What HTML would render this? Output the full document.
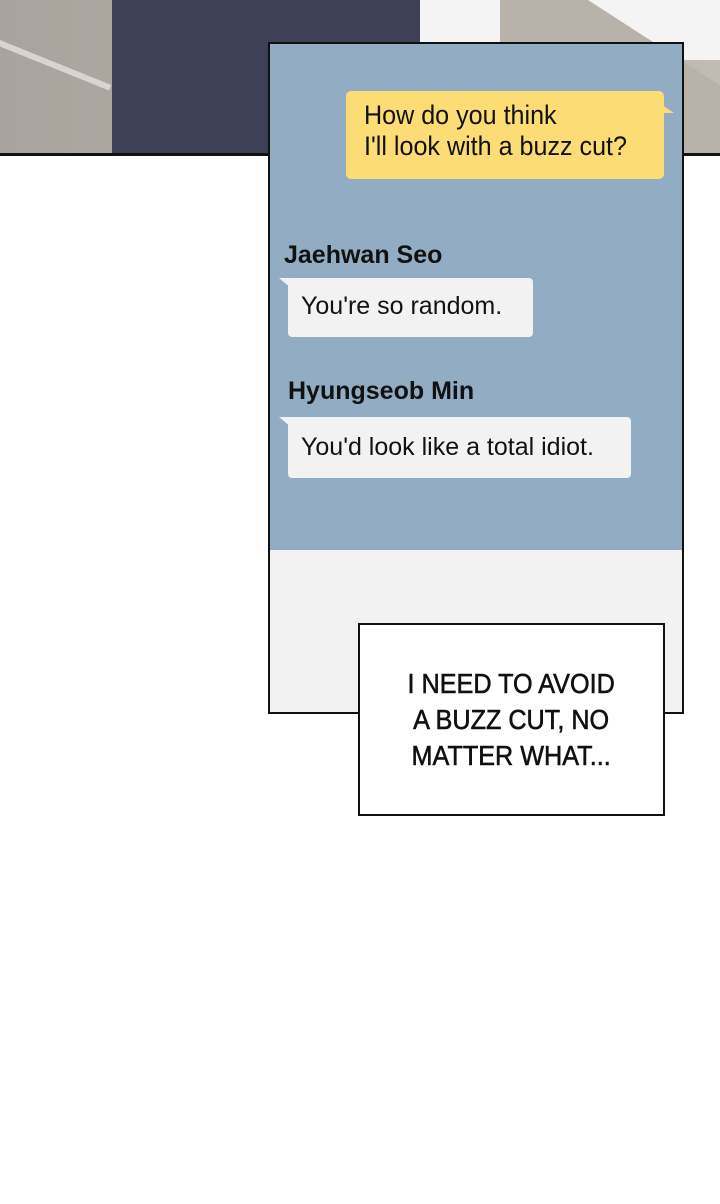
<!DOCTYPE html>
<html><head><style>
body{margin:0;width:720px;height:1204px;background:#fff;position:relative;overflow:hidden;font-family:"Liberation Sans",sans-serif}
.a{position:absolute}
</style></head><body>
<div class="a" style="left:0;top:0;width:720px;height:155px;background:linear-gradient(90deg,#a9a39d,#c2bbb4)"></div>
<div class="a" style="left:0;top:40px;width:120px;height:6px;background:#d8d4cf;transform:rotate(22deg);transform-origin:0 0"></div>
<div class="a" style="left:112px;top:0;width:310px;height:155px;background:#3e4057"></div>
<div class="a" style="left:420px;top:0;width:300px;height:60px;background:#f4f4f4"></div>
<div class="a" style="left:500px;top:0;width:220px;height:155px;background:#b9b2aa;clip-path:polygon(0 0,40% 0,100% 55%,100% 100%,0 100%)"></div>
<div class="a" style="left:0;top:153px;width:720px;height:3px;background:#111"></div>
<div class="a" style="left:268px;top:42px;width:412px;height:668px;border:2px solid #111;background:#f2f2f2"></div>
<div class="a" style="left:270px;top:44px;width:412px;height:506px;background:#92adc3"></div>
<div class="a" style="left:346px;top:91px;width:318px;height:88px;background:#fcdc74;border-radius:5px"></div>
<div class="a" style="left:662px;top:105px;width:0;height:0;border-left:12px solid #fcdc74;border-top:8px solid transparent"></div>
<div class="a" style="left:364px;top:100px;font-size:27px;line-height:31px;color:#111;transform:scaleX(0.93);transform-origin:0 0">How do you think<br>I'll look with a buzz cut?</div>
<div class="a" style="left:284px;top:241px;font-size:25px;font-weight:bold;color:#111">Jaehwan Seo</div>
<div class="a" style="left:288px;top:278px;width:245px;height:59px;background:#f2f2f2;border-radius:4px"></div>
<div class="a" style="left:279px;top:278px;border-right:12px solid #f2f2f2;border-bottom:10px solid transparent"></div>
<div class="a" style="left:301px;top:292px;font-size:25px;color:#111">You're so random.</div>
<div class="a" style="left:288px;top:377px;font-size:25px;font-weight:bold;color:#111">Hyungseob Min</div>
<div class="a" style="left:288px;top:417px;width:343px;height:61px;background:#f2f2f2;border-radius:4px"></div>
<div class="a" style="left:279px;top:417px;border-right:12px solid #f2f2f2;border-bottom:10px solid transparent"></div>
<div class="a" style="left:301px;top:433px;font-size:25px;color:#111">You'd look like a total idiot.</div>
<div class="a" style="left:358px;top:623px;width:303px;height:189px;border:2px solid #111;background:#fff;display:flex;align-items:center;justify-content:center;text-align:center;font-size:28px;line-height:36px;color:#111"><span style="display:inline-block;transform:scaleX(0.9);-webkit-text-stroke:0.6px #111">I NEED TO AVOID<br>A BUZZ CUT, NO<br>MATTER WHAT...</span></div>
</body></html>
